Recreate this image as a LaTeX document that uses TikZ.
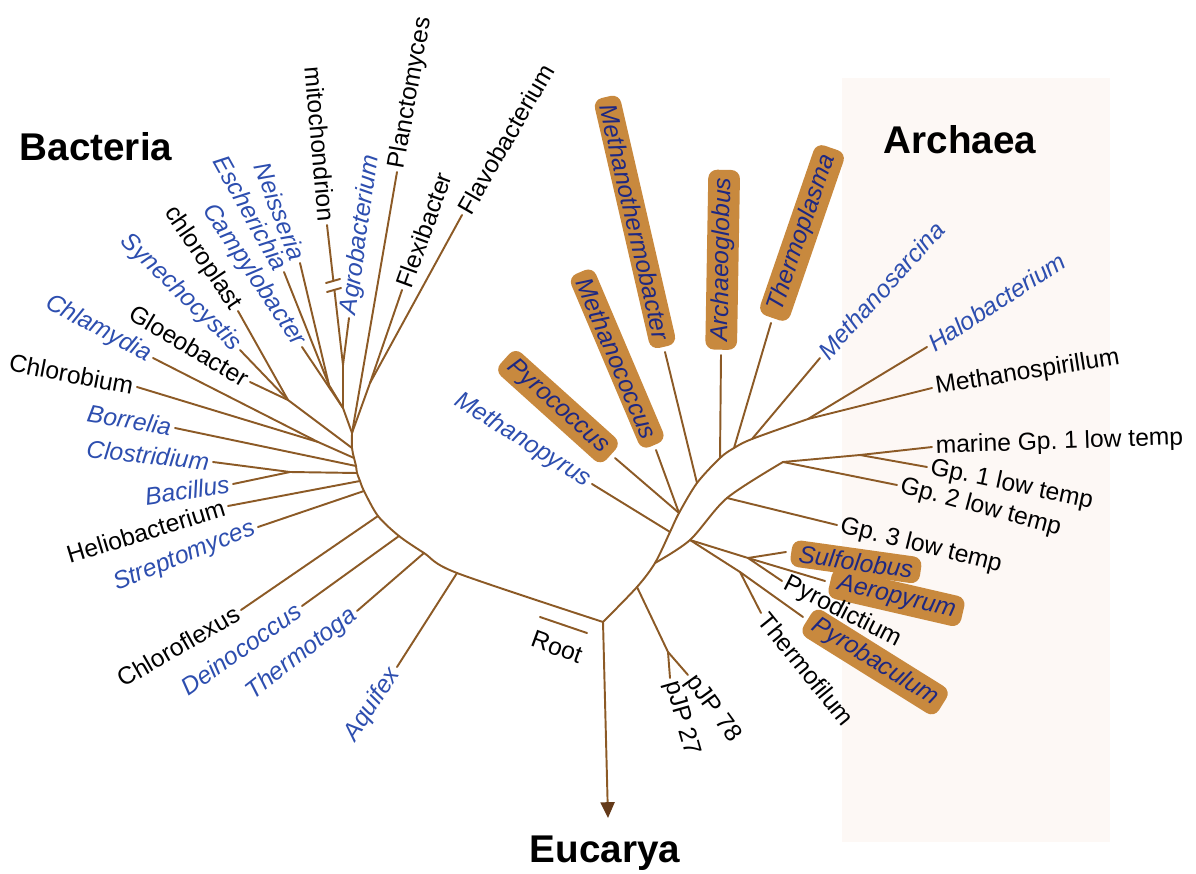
\documentclass[tikz,border=0pt]{standalone}
\usepackage{fontspec}
\setmainfont{Liberation Sans}
\usetikzlibrary{arrows.meta}
\definecolor{twig}{RGB}{140,90,38}
\definecolor{stemdark}{RGB}{100,58,25}
\definecolor{taxblue}{RGB}{45,78,175}
\definecolor{hilite}{RGB}{200,137,62}
\definecolor{boxblue}{RGB}{30,40,130}
\definecolor{tint}{RGB}{253,248,245}

\begin{document}
\begin{tikzpicture}[
    x=0.02cm, y=-0.02cm,
    branch/.style={draw=twig, line width=1.1pt, line cap=round, line join=round},
    taxon/.style={inner sep=2pt, font=\fontsize{14}{16}\selectfont},
    genus/.style={taxon, text=taxblue, font=\fontsize{14}{16}\selectfont\itshape},
    hot/.style={genus, text=boxblue, fill=hilite, rounded corners=5pt, inner xsep=4.5pt, inner ysep=2.5pt, outer sep=3pt},
    realm/.style={font=\fontsize{22}{26}\selectfont\bfseries}
]
    \useasboundingbox (0,0) rectangle (1196,874);
    \fill[tint] (842,78) rectangle (1110,842);

    \node[realm] (bacteria) at (96,147) {Bacteria};
    \node[realm] (archaea) at (960,140) {Archaea};
    \node[realm] (eucarya) at (605,853) {Eucarya};

    \coordinate (root) at (603,622);
    \coordinate (euk) at (608,818);
    \coordinate (rootA) at (540,617);
    \coordinate (rootB) at (587,633);

    \coordinate (b1) at (457,573);
    \coordinate (b2) at (424,553);
    \coordinate (b3) at (399,536);
    \coordinate (b4) at (378,516);
    \coordinate (b5) at (364,491);
    \coordinate (b6) at (360,481);
    \coordinate (b7) at (357,473);
    \coordinate (b8) at (356,466);
    \coordinate (b9) at (354,458);
    \coordinate (b10) at (352,448);
    \coordinate (top) at (352,433);
    \coordinate (g1) at (290,472);
    \coordinate (g2) at (318,442);
    \coordinate (g3) at (288,400);
    \coordinate (p0) at (343,408);
    \coordinate (pe) at (329,385);
    \coordinate (pm) at (343,365);
    \coordinate (fx) at (370,383);
    \coordinate (brk1) at (334,290);
    \coordinate (brk2) at (333,281);

    \coordinate (pn) at (637,587);
    \coordinate (pj) at (668,652);
    \coordinate (a0) at (655,563);
    \coordinate (a1) at (670,532);
    \coordinate (a2) at (679,513);
    \coordinate (a3) at (697,483);
    \coordinate (a4) at (720,458);
    \coordinate (a5) at (734,448);
    \coordinate (a6) at (752,439);
    \coordinate (hx) at (808,419);
    \coordinate (c1) at (690,540);
    \coordinate (gp3n) at (727,498);
    \coordinate (gx) at (783,462);
    \coordinate (mg) at (860,455);
    \coordinate (cs) at (748,558);
    \coordinate (ct) at (740,572);

    \node[taxon, anchor=east, rotate=-11] (chlorobium) at (137,387) {Chlorobium};
    \node[genus, anchor=east, rotate=-28] (chlamydia) at (153,358) {Chlamydia};
    \node[genus, anchor=east, rotate=-10] (borrelia) at (175,428) {Borrelia};
    \node[genus, anchor=east, rotate=-6] (clostridium) at (213,462) {Clostridium};
    \node[genus, anchor=east, rotate=8] (bacillus) at (233,484) {Bacillus};
    \node[taxon, anchor=east, rotate=17] (helio) at (228,506) {Heliobacterium};
    \node[genus, anchor=east, rotate=22] (strepto) at (258,527) {Streptomyces};
    \node[taxon, anchor=east, rotate=30] (chloroflexus) at (241,610) {Chloroflexus};
    \node[genus, anchor=east, rotate=35] (deino) at (302,606) {Deinococcus};
    \node[genus, anchor=east, rotate=38] (thermotoga) at (357,611) {Thermotoga};
    \node[genus, anchor=east, rotate=57] (aquifex) at (397,667) {Aquifex};
    \node[taxon, anchor=east, rotate=-31] (gloeo) at (250,382) {Gloeobacter};
    \node[genus, anchor=east, rotate=-44] (synecho) at (240,350) {Synechocystis};
    \node[taxon, anchor=east, rotate=-56] (chloroplast) at (238,311) {chloroplast};
    \node[genus, anchor=east, rotate=-56] (campylo) at (302,347) {Campylobacter};
    \node[genus, anchor=east, rotate=-61] (escherichia) at (284,272) {Escherichia};
    \node[genus, anchor=east, rotate=-69] (neisseria) at (300,263) {Neisseria};
    \node[taxon, anchor=east, rotate=-85] (mito) at (327,225) {mitochondrion};
    \node[genus, anchor=west, rotate=82] (agro) at (349,318) {Agrobacterium};
    \node[taxon, anchor=west, rotate=80] (plancto) at (397,172) {Planctomyces};
    \node[taxon, anchor=west, rotate=70] (flexi) at (402,290) {Flexibacter};
    \node[taxon, anchor=west, rotate=60] (flavo) at (462,215) {Flavobacterium};

    \node[genus, anchor=east, rotate=-32] (methanopyrus) at (592,484) {Methanopyrus};
    \node[hot, anchor=east, rotate=-42] (pyrococcus) at (615,458) {Pyrococcus};
    \node[hot, anchor=east, rotate=-67] (methanococcus) at (656,450) {Methanococcus};
    \node[hot, anchor=east, rotate=-77] (mthermo) at (665,352) {Methanothermobacter};
    \node[hot, anchor=west, rotate=89] (archaeo) at (721,355) {Archaeoglobus};
    \node[hot, anchor=west, rotate=71] (thermoplasma) at (771,323) {Thermoplasma};
    \node[genus, anchor=west, rotate=48] (msarcina) at (820,358) {Methanosarcina};
    \node[genus, anchor=west, rotate=33] (halo) at (927,347) {Halobacterium};
    \node[taxon, anchor=west, rotate=9] (mspirillum) at (932,388) {Methanospirillum};
    \node[taxon, anchor=west, rotate=2] (marine) at (932,447) {marine Gp.~1 low temp};
    \node[taxon, anchor=west, rotate=-12] (gpone) at (927,467) {Gp.~1 low temp};
    \node[taxon, anchor=west, rotate=-15] (gptwo) at (897,485) {Gp.~2 low temp};
    \node[taxon, anchor=west, rotate=-14] (gpthree) at (837,525) {Gp.~3 low temp};
    \node[hot, anchor=west, rotate=-8] (sulfolobus) at (786,552) {Sulfolobus};
    \node[hot, anchor=west, rotate=-13] (aeropyrum) at (825,581) {Aeropyrum};
    \node[taxon, anchor=west, rotate=-27] (pyrodictium) at (782,581) {Pyrodictium};
    \node[hot, anchor=west, rotate=-32] (pyrobaculum) at (803,617) {Pyrobaculum};
    \node[taxon, anchor=west, rotate=-51] (thermofilum) at (761,613) {Thermofilum};
    \node[taxon, anchor=west, rotate=-54] (pjp78) at (688,675) {pJP 78};
    \node[taxon, anchor=west, rotate=-74] (pjp27) at (670,678) {pJP 27};
    \node[taxon, rotate=-20] (rootlabel) at (557,647) {Root};

    \draw[branch] plot[smooth, tension=0.5] coordinates {(root) (b1) (b2) (b3) (b4) (b5) (b6) (b7) (b8) (b9) (b10) (top)};
    \draw[branch] (b1) -- (aquifex.east);
    \draw[branch] (b2) -- (thermotoga.east);
    \draw[branch] (b3) -- (deino.east);
    \draw[branch] (b4) -- (chloroflexus.east);
    \draw[branch] (b5) -- (strepto.east);
    \draw[branch] (b6) -- (helio.east);
    \draw[branch] (b7) -- (g1);
    \draw[branch] (g1) -- (clostridium.east);
    \draw[branch] (g1) -- (bacillus.east);
    \draw[branch] (b8) -- (borrelia.east);
    \draw[branch] (b9) -- (g2);
    \draw[branch] (g2) -- (chlorobium.east);
    \draw[branch] (g2) -- (chlamydia.east);
    \draw[branch] (b10) -- (g3);
    \draw[branch] (g3) -- (gloeo.east);
    \draw[branch] (g3) -- (synecho.east);
    \draw[branch] (g3) -- (chloroplast.east);
    \draw[branch] (top) -- (p0);
    \draw[branch] (p0) -- (campylo.east);
    \draw[branch] (p0) -- (pe);
    \draw[branch] (pe) -- (escherichia.east);
    \draw[branch] (pe) -- (neisseria.east);
    \draw[branch] (p0) -- (pm);
    \draw[branch] (pm) -- (mito.east);
    \draw[branch] (pm) -- (agro.west);
    \draw[branch] (top) -- (plancto.west);
    \draw[branch] (top) -- (fx);
    \draw[branch] (fx) -- (flexi.west);
    \draw[branch] (fx) -- (flavo.west);
    \draw[white, line width=3pt] (brk1) -- (brk2);
    \draw[branch] (brk1) ++(-7,2) -- ++(14,-4);
    \draw[branch] (brk2) ++(-7,2) -- ++(14,-4);

    \draw[branch] plot[smooth, tension=0.5] coordinates {(root) (pn) (a0) (a1) (a2) (a3) (a4) (a5) (a6) (hx)};
    \draw[branch] plot[smooth, tension=0.5] coordinates {(a0) (c1) (gp3n) (gx)};
    \draw[branch] (a1) -- (methanopyrus.east);
    \draw[branch] (a2) -- (pyrococcus.east);
    \draw[branch] (a2) -- (methanococcus.east);
    \draw[branch] (a3) -- (mthermo.east);
    \draw[branch] (a4) -- (archaeo.west);
    \draw[branch] (a5) -- (thermoplasma.west);
    \draw[branch] (a6) -- (msarcina.west);
    \draw[branch] (hx) -- (halo.west);
    \draw[branch] (hx) -- (mspirillum.west);
    \draw[branch] (gx) -- (mg);
    \draw[branch] (mg) -- (marine.west);
    \draw[branch] (mg) -- (gpone.west);
    \draw[branch] (gx) -- (gptwo.west);
    \draw[branch] (gp3n) -- (gpthree.west);
    \draw[branch] (c1) -- (cs);
    \draw[branch] (cs) -- (sulfolobus.west);
    \draw[branch] (cs) -- (aeropyrum.west);
    \draw[branch] (cs) -- (pyrodictium.west);
    \draw[branch] (c1) -- (ct);
    \draw[branch] (ct) -- (pyrobaculum.west);
    \draw[branch] (ct) -- (thermofilum.west);
    \draw[branch] (pn) -- (pj);
    \draw[branch] (pj) -- (pjp27.west);
    \draw[branch] (pj) -- (pjp78.west);

    \draw[branch] (rootA) -- (rootB);
    \draw[branch, -{Triangle[width=8pt, length=9pt, color=stemdark]}] (root) -- (euk);
\end{tikzpicture}
\end{document}
